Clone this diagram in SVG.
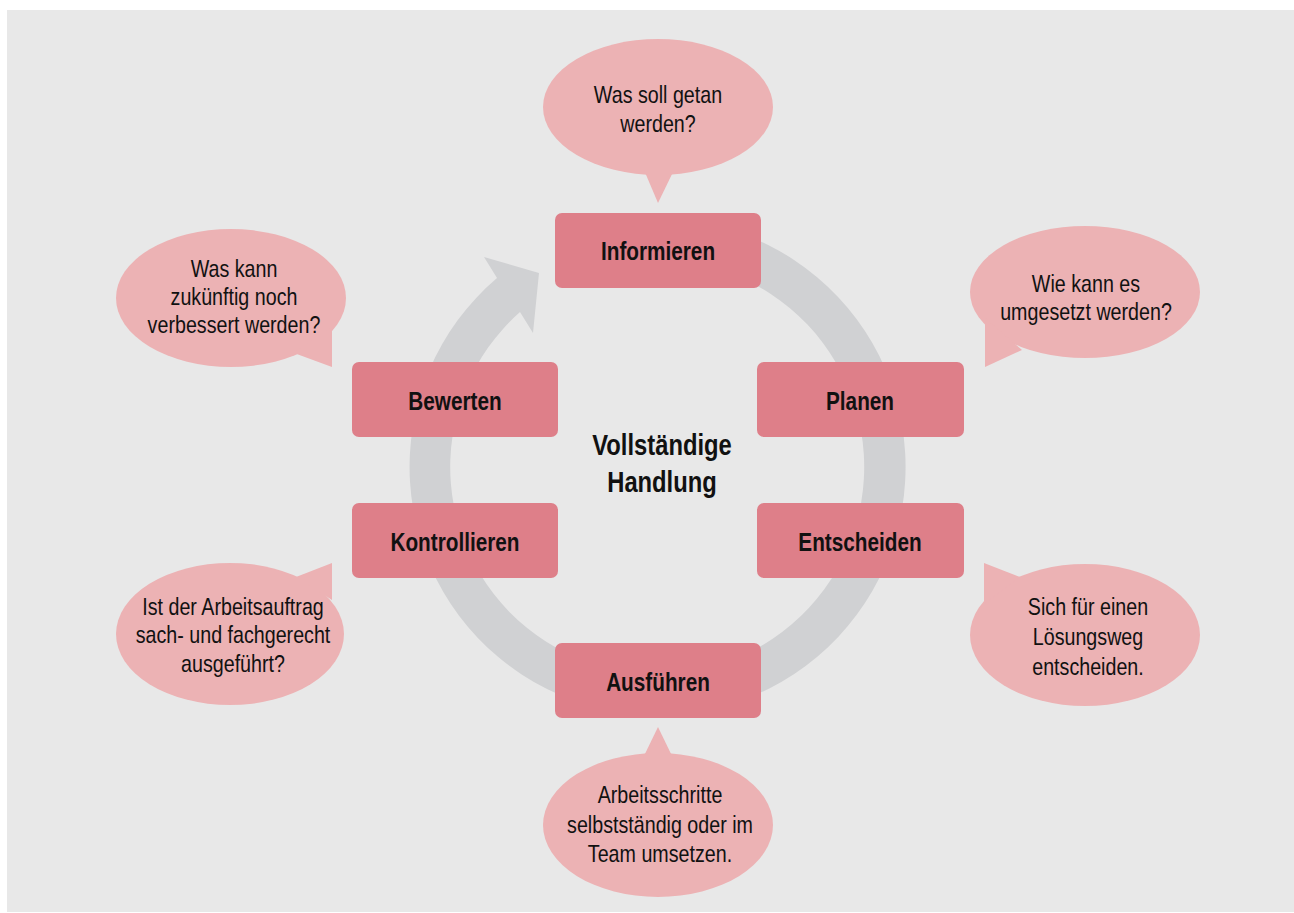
<svg xmlns="http://www.w3.org/2000/svg" width="1294" height="913" viewBox="0 0 1294 913">
  <style>
    .panel { fill: #e8e8e8; }
    .ring { fill: #d0d1d3; }
    .step { fill: #de7f89; }
    .bubble { fill: #ecb2b4; }
    .step-label { font-family: "Liberation Sans", Arial, sans-serif; font-weight: bold; font-size: 25px; fill: #111; text-anchor: middle; }
    .center-label { font-family: "Liberation Sans", Arial, sans-serif; font-weight: bold; font-size: 29px; fill: #111; text-anchor: middle; }
    .note { font-family: "Liberation Sans", Arial, sans-serif; font-size: 24px; fill: #111; text-anchor: middle; }
  </style>

  <!-- background panel -->
  <rect class="panel" x="7" y="10" width="1287" height="902"/>

  <!-- circular flow arrow -->
  <g id="connectors">
    <path class="ring" d="M 658 219 A 248 248 0 1 1 497 278 L 484 257 L 539 273 L 533 333 L 520 312 A 207 207 0 1 0 658 260 Z"/>
  </g>

  <!-- centre caption (narrowed sans) -->
  <g id="center">
    <text class="center-label" transform="translate(662 455) scale(0.82 1)">Vollständige</text>
    <text class="center-label" transform="translate(662 492) scale(0.82 1)">Handlung</text>
  </g>

  <!-- process steps -->
  <g id="informieren">
    <rect class="step" x="555" y="213" width="206" height="75" rx="7"/>
    <text class="step-label" transform="translate(658 260) scale(0.83 1)">Informieren</text>
  </g>
  <g id="planen">
    <rect class="step" x="757" y="362" width="207" height="75" rx="7"/>
    <text class="step-label" transform="translate(860 410) scale(0.83 1)">Planen</text>
  </g>
  <g id="entscheiden">
    <rect class="step" x="757" y="503" width="207" height="75" rx="7"/>
    <text class="step-label" transform="translate(860 551) scale(0.83 1)">Entscheiden</text>
  </g>
  <g id="ausfuehren">
    <rect class="step" x="555" y="643" width="206" height="75" rx="7"/>
    <text class="step-label" transform="translate(658 691) scale(0.83 1)">Ausführen</text>
  </g>
  <g id="kontrollieren">
    <rect class="step" x="352" y="503" width="206" height="75" rx="7"/>
    <text class="step-label" transform="translate(455 551) scale(0.83 1)">Kontrollieren</text>
  </g>
  <g id="bewerten">
    <rect class="step" x="352" y="362" width="206" height="75" rx="7"/>
    <text class="step-label" transform="translate(455 410) scale(0.83 1)">Bewerten</text>
  </g>

  <!-- speech bubbles -->
  <g id="bubble-informieren">
    <ellipse class="bubble" cx="658" cy="107" rx="115" ry="68"/>
    <polygon class="bubble" points="644,170 674,170 658,203"/>
    <text class="note" transform="translate(658 103) scale(0.82 1)">Was soll getan</text>
    <text class="note" transform="translate(658 132) scale(0.82 1)">werden?</text>
  </g>
  <g id="bubble-planen">
    <ellipse class="bubble" cx="1085" cy="292" rx="115" ry="66"/>
    <polygon class="bubble" points="985,318 985,367 1022,350"/>
    <text class="note" transform="translate(1086 292) scale(0.82 1)">Wie kann es</text>
    <text class="note" transform="translate(1086 320) scale(0.82 1)">umgesetzt werden?</text>
  </g>
  <g id="bubble-entscheiden">
    <ellipse class="bubble" cx="1085" cy="635" rx="115" ry="71"/>
    <polygon class="bubble" points="984,563 984,604 1020,577"/>
    <text class="note" transform="translate(1088 615) scale(0.82 1)">Sich für einen</text>
    <text class="note" transform="translate(1088 645) scale(0.82 1)">Lösungsweg</text>
    <text class="note" transform="translate(1088 675) scale(0.82 1)">entscheiden.</text>
  </g>
  <g id="bubble-ausfuehren">
    <ellipse class="bubble" cx="658" cy="825" rx="115" ry="72"/>
    <polygon class="bubble" points="642,760 674,760 658,727"/>
    <text class="note" transform="translate(660 803) scale(0.82 1)">Arbeitsschritte</text>
    <text class="note" transform="translate(660 833) scale(0.82 1)">selbstständig oder im</text>
    <text class="note" transform="translate(660 862) scale(0.82 1)">Team umsetzen.</text>
  </g>
  <g id="bubble-kontrollieren">
    <ellipse class="bubble" cx="230" cy="634" rx="114" ry="71"/>
    <polygon class="bubble" points="332,563 332,600 296,577"/>
    <text class="note" transform="translate(233 615) scale(0.82 1)">Ist der Arbeitsauftrag</text>
    <text class="note" transform="translate(233 643) scale(0.82 1)">sach- und fachgerecht</text>
    <text class="note" transform="translate(233 672) scale(0.82 1)">ausgeführt?</text>
  </g>
  <g id="bubble-bewerten">
    <ellipse class="bubble" cx="231" cy="298" rx="115" ry="69"/>
    <polygon class="bubble" points="332,326 332,367 294,353"/>
    <text class="note" transform="translate(234 277) scale(0.82 1)">Was kann</text>
    <text class="note" transform="translate(234 305) scale(0.82 1)">zukünftig noch</text>
    <text class="note" transform="translate(234 333) scale(0.82 1)">verbessert werden?</text>
  </g>
</svg>
